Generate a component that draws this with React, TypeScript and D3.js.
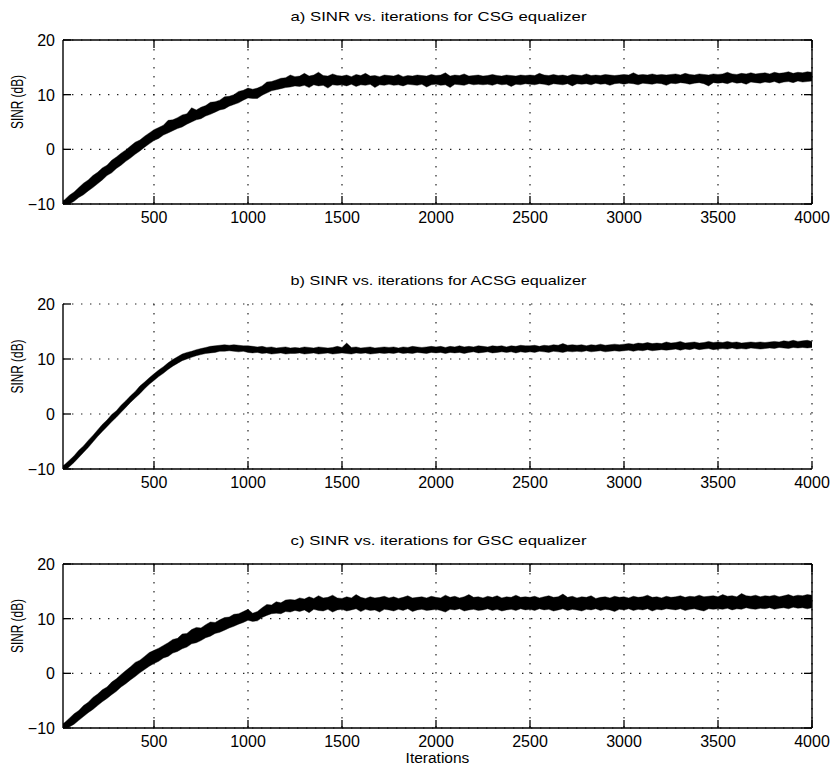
import React from "react";
import * as d3 from "d3";

// sampling grid of the envelope readings (iterations)
const ITERATIONS: number[] = d3.range(0, 4001, 25);
const X_TICKS = [500, 1000, 1500, 2000, 2500, 3000, 3500, 4000];
const Y_TICKS = [-10, 0, 10, 20];
const TITLES = [
  "a) SINR vs. iterations for CSG equalizer",
  "b) SINR vs. iterations for ACSG equalizer",
  "c) SINR vs. iterations for GSC equalizer",
];
const X_LABEL = "Iterations";
const Y_LABEL = "SINR (dB)";

// a) CSG: upper / lower envelope of the noisy SINR trace (dB)
const CSG_UPPER = [
  -9.6, -9.2, -8.4, -7.8, -7.0, -6.2, -5.6, -4.8, -4.2, -3.4,
  -2.9, -2.0, -1.4, -0.7, -0.1, 0.6, 1.3, 1.7, 2.4, 3.0,
  3.6, 4.0, 4.4, 5.3, 5.4, 5.8, 6.3, 6.5, 7.6, 7.2,
  7.7, 8.0, 8.6, 8.7, 9.0, 9.6, 9.7, 10.0, 10.6, 10.8,
  11.2, 11.0, 11.2, 11.6, 12.3, 12.4, 12.7, 13.0, 13.1, 13.6,
  13.3, 13.4, 13.9, 13.4, 13.6, 14.1, 13.5, 13.4, 13.8, 13.5,
  13.4, 13.6, 13.3, 13.7, 13.5, 13.9, 13.4, 13.5, 13.3, 13.6,
  13.5, 13.4, 13.7, 13.3, 13.5, 13.4, 13.6, 13.5, 13.4, 13.7,
  13.5, 13.6, 14.0, 13.4, 13.6, 13.5, 13.8, 13.4, 13.5, 13.6,
  13.4, 13.5, 13.7, 13.5, 13.4, 13.6, 13.5, 13.4, 13.6, 13.5,
  13.6, 13.5, 13.9, 13.6, 13.5, 13.7, 13.5, 13.6, 13.4, 13.7,
  13.6, 13.5, 13.8, 13.5, 13.6, 13.5, 13.7, 13.6, 13.5, 13.6,
  13.7, 13.6, 14.0, 13.6, 13.7, 13.6, 13.8, 13.6, 13.7, 13.6,
  13.7, 13.8, 13.6, 13.9, 13.7, 13.6, 13.8, 13.7, 13.6, 13.8,
  13.7, 13.8, 14.1, 13.8, 13.7, 13.9, 13.8, 14.0, 13.8, 13.9,
  14.0, 13.8, 14.1, 13.9, 14.0, 14.2, 13.9, 14.1, 14.0, 14.2, 14.1,
];
const CSG_LOWER = [
  -10.6, -10.4, -10.0, -9.5, -8.8, -8.3, -7.6, -7.0, -6.3, -5.6,
  -4.8, -4.3, -3.5, -2.9, -2.2, -1.6, -0.9, -0.3, 0.4, 1.0,
  1.6, 2.0, 2.6, 3.0, 3.4, 3.8, 4.1, 4.6, 5.0, 5.4,
  5.6, 6.1, 6.4, 6.8, 7.2, 7.4, 7.9, 8.2, 8.5, 9.0,
  9.4, 9.3, 9.3, 9.9, 10.3, 10.7, 10.9, 11.1, 11.3, 11.4,
  11.6, 11.5, 11.7, 11.3, 11.8, 11.6, 11.7, 11.2, 11.8, 11.7,
  11.8, 11.6, 11.9, 11.5, 11.8, 11.7, 11.9, 11.3, 11.8, 11.7,
  11.9, 11.7, 11.8, 11.6, 11.9, 11.8, 11.7, 11.9, 11.4, 11.8,
  11.9, 11.7, 11.8, 11.3, 11.9, 11.8, 11.7, 12.0, 11.8, 11.9,
  11.8, 11.9, 11.7, 12.0, 11.8, 11.9, 11.5, 11.9, 11.8, 12.0,
  11.9, 11.8, 12.0, 11.9, 11.7, 12.0, 11.9, 11.8, 12.0, 11.6,
  12.0, 11.9, 12.0, 11.8, 12.1, 11.9, 12.0, 11.7, 12.0, 12.1,
  11.9, 12.1, 12.0, 11.8, 12.1, 12.0, 11.9, 12.1, 12.0, 11.7,
  12.1, 12.0, 12.2, 12.1, 11.9, 12.1, 12.2, 12.0, 11.6, 12.2,
  12.1, 12.2, 12.0, 12.3, 12.1, 12.2, 11.9, 12.3, 12.2, 12.1,
  12.3, 12.2, 12.4, 12.1, 12.3, 12.4, 12.2, 12.5, 12.3, 12.4, 12.5,
];

// b) ACSG
const ACSG_UPPER = [
  -9.7, -9.2, -8.4, -7.6, -6.6, -5.8, -4.8, -3.9, -2.9, -1.9,
  -1.1, -0.1, 0.6, 1.6, 2.4, 3.3, 4.1, 5.1, 5.8, 6.6,
  7.3, 8.0, 8.6, 9.3, 9.9, 10.4, 10.9, 11.2, 11.4, 11.7,
  11.9, 12.1, 12.3, 12.4, 12.5, 12.6, 12.5, 12.6, 12.5, 12.4,
  12.4, 12.3, 12.2, 12.3, 12.1, 12.2, 12.0, 12.1, 12.2, 12.0,
  12.1, 12.0, 12.2, 12.1, 12.0, 12.2, 12.1, 12.0, 12.1, 12.3,
  12.1, 12.9, 12.1, 12.2, 12.0, 12.1, 12.2, 12.0, 12.1, 12.2,
  12.1, 12.2, 12.0, 12.2, 12.1, 12.3, 12.2, 12.1, 12.2, 12.3,
  12.2, 12.3, 12.1, 12.3, 12.2, 12.4, 12.2, 12.3, 12.2, 12.4,
  12.3, 12.2, 12.4, 12.3, 12.4, 12.2, 12.4, 12.3, 12.5, 12.4,
  12.4, 12.5, 12.3, 12.5, 12.4, 12.6, 12.5, 12.8, 12.5, 12.6,
  12.5, 12.6, 12.4, 12.6, 12.5, 12.7, 12.5, 12.6, 12.7, 12.6,
  12.7, 12.8, 12.7, 12.9, 12.8, 13.0, 12.8, 12.9, 12.8, 13.1,
  12.9, 13.0, 13.2, 12.9, 13.0, 13.1, 12.9, 13.0, 13.2, 13.0,
  13.1, 13.0, 13.2, 13.0, 13.1, 12.9, 13.0, 13.1, 13.0, 13.1,
  13.0, 13.1, 13.2, 13.1, 13.3, 13.2, 13.4, 13.2, 13.3, 13.4, 13.2,
];
const ACSG_LOWER = [
  -10.6, -10.3, -9.6, -8.8, -7.9, -7.0, -6.1, -5.1, -4.1, -3.2,
  -2.3, -1.4, -0.6, 0.3, 1.2, 2.1, 2.9, 3.7, 4.6, 5.4,
  6.1, 6.8, 7.4, 8.1, 8.7, 9.2, 9.7, 10.0, 10.3, 10.6,
  10.8, 11.0, 11.1, 11.2, 11.4, 11.4, 11.5, 11.4, 11.3, 11.4,
  11.2, 11.1, 11.2, 11.0, 11.1, 10.9, 11.0, 11.1, 10.9, 11.0,
  11.0, 11.1, 10.9, 11.0, 11.1, 10.9, 11.0, 11.1, 10.9, 11.0,
  11.1, 11.0, 10.9, 11.1, 11.0, 11.1, 10.9, 11.0, 11.1, 11.0,
  11.1, 11.0, 11.2, 11.0, 11.1, 11.0, 11.2, 11.1, 11.0, 11.2,
  11.1, 11.2, 11.0, 11.2, 11.1, 11.2, 11.0, 11.2, 11.3, 11.1,
  11.2, 11.3, 11.1, 11.2, 11.3, 11.2, 11.3, 11.1, 11.3, 11.2,
  11.3, 11.2, 11.4, 11.3, 11.2, 11.4, 11.3, 11.2, 11.4, 11.3,
  11.4, 11.3, 11.5, 11.3, 11.4, 11.5, 11.3, 11.4, 11.5, 11.4,
  11.5, 11.6, 11.4, 11.6, 11.5, 11.7, 11.5, 11.6, 11.7, 11.6,
  11.7, 11.8, 11.6, 11.8, 11.7, 11.9, 11.7, 11.8, 11.9, 11.7,
  11.8, 11.9, 11.8, 12.0, 11.8, 11.9, 11.8, 12.0, 11.9, 11.8,
  11.9, 12.0, 11.9, 12.1, 12.0, 11.9, 12.1, 12.0, 12.1, 12.0, 12.1,
];

// c) GSC
const GSC_UPPER = [
  -9.5, -9.0, -8.2, -7.4, -6.8, -5.9, -5.3, -4.4, -3.8, -3.0,
  -2.5, -1.6, -1.0, -0.2, 0.5, 1.2, 2.0, 2.4, 3.1, 3.8,
  4.2, 4.6, 5.1, 5.6, 6.2, 6.4, 7.2, 7.3, 8.0, 8.4,
  8.3, 8.9, 9.4, 9.3, 9.8, 10.2, 10.3, 10.8, 10.9, 11.3,
  11.7, 11.0, 11.3, 12.0, 12.6, 12.5, 13.1, 12.9, 13.4, 13.5,
  13.4, 13.8, 13.6, 14.0, 13.7, 14.2, 13.8, 13.9, 14.3, 13.8,
  13.7, 14.0, 13.8, 14.4, 13.9, 13.7, 14.0, 13.8, 13.9, 14.1,
  13.8, 14.0, 13.7, 13.9, 14.2, 13.8, 13.9, 14.0, 13.8, 14.1,
  13.9, 13.8, 14.3, 13.9, 14.1, 13.8, 14.0, 14.4, 13.9, 14.0,
  13.8, 14.1, 13.9, 14.2, 13.8, 14.0, 13.9, 14.3, 13.9, 14.0,
  13.9, 14.1, 13.8, 14.0, 14.2, 13.9, 14.0, 14.5, 13.9, 14.1,
  13.8, 14.0, 13.9, 14.2, 13.7, 13.9, 14.0, 13.8, 14.1, 13.9,
  14.0, 13.8, 14.1, 13.9, 14.0, 14.3, 13.9, 14.0, 13.8, 14.1,
  13.9, 14.0, 14.2, 13.9, 14.1, 14.0, 14.3, 14.0, 14.1, 14.2,
  14.0, 14.4, 14.1, 14.2, 14.0, 14.6, 14.2, 14.1, 14.3, 14.0,
  14.2, 14.1, 14.3, 14.0, 14.2, 14.4, 14.1, 14.3, 14.2, 14.4, 14.3,
];
const GSC_LOWER = [
  -10.7, -10.4, -9.8, -9.3, -8.6, -7.9, -7.2, -6.6, -5.9, -5.2,
  -4.6, -3.9, -3.3, -2.5, -1.9, -1.2, -0.6, 0.1, 0.7, 1.3,
  1.8, 2.2, 2.8, 3.1, 3.7, 4.0, 4.5, 4.8, 5.4, 5.6,
  6.0, 6.5, 6.8, 7.3, 7.5, 7.9, 8.3, 8.6, 9.0, 9.3,
  9.7, 9.5, 9.6, 10.2, 10.6, 10.9, 11.0, 10.9, 11.3, 11.2,
  11.5, 11.3, 11.6, 11.1, 11.7, 11.5, 11.4, 11.7, 11.2, 11.6,
  11.7, 11.4, 11.6, 11.8, 11.3, 11.7, 11.5, 11.6, 11.2, 11.7,
  11.6, 11.4, 11.7, 11.5, 11.8, 11.3, 11.6, 11.7, 11.5, 11.6,
  11.7, 11.5, 11.2, 11.7, 11.6, 11.8, 11.4, 11.6, 11.7, 11.5,
  11.6, 11.8, 11.5, 11.7, 11.4, 11.6, 11.7, 11.5, 11.8, 11.6,
  11.7, 11.5, 11.8, 11.6, 11.7, 11.4, 11.6, 11.8, 11.5, 11.7,
  11.6, 11.4, 11.7, 11.6, 11.8, 11.5, 11.7, 11.6, 11.3, 11.7,
  11.6, 11.8, 11.5, 11.7, 11.6, 11.8, 11.4, 11.7, 11.6, 11.8,
  11.7, 11.6, 11.8, 11.5, 11.7, 11.8, 11.6, 11.4, 11.8, 11.7,
  11.8, 11.7, 11.9, 11.6, 11.8, 11.7, 12.0, 11.8, 11.7, 11.9,
  11.8, 12.0, 11.7, 11.9, 12.0, 11.8, 12.1, 11.9, 12.0, 11.8, 12.0,
];

const FONT = "'Liberation Sans', Arial, Helvetica, sans-serif";
const W = 832;
const H = 773;
const LEFT = 63;
const RIGHT = 812;

const PANELS = [
  { title: TITLES[0], upper: CSG_UPPER, lower: CSG_LOWER, top: 40, bottom: 204, box: true, xlabel: false },
  { title: TITLES[1], upper: ACSG_UPPER, lower: ACSG_LOWER, top: 304, bottom: 469, box: false, xlabel: false },
  { title: TITLES[2], upper: GSC_UPPER, lower: GSC_LOWER, top: 564, bottom: 728, box: true, xlabel: true },
];

const TICK = 8;

function Panel({ p, idx }: { p: (typeof PANELS)[number]; idx: number }) {
  const x = d3.scaleLinear().domain([16, 4000]).range([LEFT, RIGHT]);
  const y = d3.scaleLinear().domain([-10, 20]).range([p.bottom, p.top]);
  const area = d3
    .area<number>()
    .x((_, i) => x(ITERATIONS[i]))
    .y0((_, i) => y(p.lower[i]))
    .y1((_, i) => y(p.upper[i]));
  const clipId = `clip-${idx}`;
  const mid = (p.top + p.bottom) / 2;
  const tickLabelDy = p.xlabel ? 18.5 : 19;
  return (
    <g>
      <defs>
        <clipPath id={clipId}>
          <rect x={LEFT} y={p.top} width={RIGHT - LEFT} height={p.bottom - p.top} />
        </clipPath>
      </defs>
      {/* grid */}
      {X_TICKS.map((t) => (
        <line key={"gx" + t} x1={x(t)} x2={x(t)} y1={p.top} y2={p.bottom}
          stroke="#222" strokeWidth={1.2} strokeDasharray="1.4 7.6" />
      ))}
      {Y_TICKS.map((t) => (
        <line key={"gy" + t} x1={LEFT} x2={RIGHT} y1={y(t)} y2={y(t)}
          stroke="#222" strokeWidth={1.2} strokeDasharray="1.4 7.6" />
      ))}
      {/* data */}
      <g clipPath={`url(#${clipId})`}>
        <path d={area(p.upper) || ""} fill="#000" stroke="#000" strokeWidth={0.4} strokeLinejoin="miter" />
      </g>
      {/* axes */}
      <line x1={LEFT} x2={LEFT} y1={p.top} y2={p.bottom} stroke="#000" strokeWidth={1.4} />
      <line x1={LEFT} x2={RIGHT} y1={p.bottom} y2={p.bottom} stroke="#000" strokeWidth={1.4} />
      {p.box && (
        <>
          <line x1={RIGHT} x2={RIGHT} y1={p.top} y2={p.bottom} stroke="#000" strokeWidth={1.4} />
          <line x1={LEFT} x2={RIGHT} y1={p.top} y2={p.top} stroke="#000" strokeWidth={1.4} />
        </>
      )}
      {/* ticks */}
      {X_TICKS.map((t) => (
        <g key={"tx" + t}>
          <line x1={x(t)} x2={x(t)} y1={p.bottom} y2={p.bottom - TICK} stroke="#000" strokeWidth={1.3} />
          {p.box && <line x1={x(t)} x2={x(t)} y1={p.top} y2={p.top + TICK} stroke="#000" strokeWidth={1.3} />}
          <text x={x(t)} y={p.bottom + tickLabelDy} textAnchor="middle" fontSize={16} fontFamily={FONT} fill="#000">
            {t}
          </text>
        </g>
      ))}
      {Y_TICKS.map((t) => (
        <g key={"ty" + t}>
          <line x1={LEFT} x2={LEFT + TICK} y1={y(t)} y2={y(t)} stroke="#000" strokeWidth={1.3} />
          {p.box && <line x1={RIGHT} x2={RIGHT - TICK} y1={y(t)} y2={y(t)} stroke="#000" strokeWidth={1.3} />}
          <text x={55} y={y(t) + 6} textAnchor="end" fontSize={16} fontFamily={FONT} fill="#000">
            {t < 0 ? "\u2212" + Math.abs(t) : t}
          </text>
        </g>
      ))}
      {/* title */}
      <text x={(LEFT + RIGHT) / 2 + 1} y={p.top - 19.5} textAnchor="middle" fontSize={13.5} fontFamily={FONT}
        textLength={296} lengthAdjust="spacingAndGlyphs" fill="#000">
        {p.title}
      </text>
      {/* y label */}
      <text transform={`translate(23,${mid - 20}) rotate(-90)`} textAnchor="middle" fontSize={16}
        fontFamily={FONT} textLength={54} lengthAdjust="spacingAndGlyphs" fill="#000">
        {Y_LABEL}
      </text>
      {p.xlabel && (
        <text x={(LEFT + RIGHT) / 2} y={p.bottom + 34.5} textAnchor="middle" fontSize={15.5} fontFamily={FONT} fill="#000">
          {X_LABEL}
        </text>
      )}
    </g>
  );
}

export default function App() {
  return (
    <svg width={W} height={H} style={{ position: "absolute", left: 0, top: 0, background: "#fff" }}>
      <rect x={0} y={0} width={W} height={H} fill="#fff" />
      {PANELS.map((p, i) => (
        <Panel key={i} p={p} idx={i} />
      ))}
    </svg>
  );
}
